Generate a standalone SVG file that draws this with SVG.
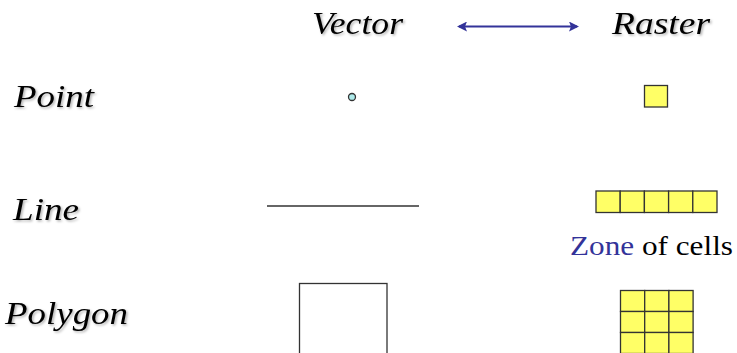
<svg xmlns="http://www.w3.org/2000/svg" width="737" height="353" viewBox="0 0 737 353">
<defs>
<style>
.lbl{font-family:'Liberation Serif','Times New Roman',serif;font-style:italic;font-size:31px;fill:#000;filter:url(#sh)}
.cell{fill:#ffff66;stroke:#333;stroke-width:1.3}
.zone{font-family:'Liberation Serif','Times New Roman',serif;font-size:27px;fill:#000}
</style>
<filter id="sh" x="-10%" y="-20%" width="130%" height="150%">
<feDropShadow dx="1.5" dy="1.5" stdDeviation="1" flood-color="#000" flood-opacity="0.3"/>
</filter>
<marker id="ah" viewBox="0 0 10 10" refX="8" refY="5" markerWidth="6" markerHeight="5" orient="auto-start-reverse">
<path d="M0,0 L10,5 L0,10 L2,5 z" fill="#333399"/>
</marker>
</defs>
<rect width="737" height="353" fill="#fff"/>
<g id="header-vector"><text class="lbl" x="312" y="34" textLength="91" lengthAdjust="spacingAndGlyphs">Vector</text></g>
<g id="header-raster"><text class="lbl" x="612" y="34" textLength="98" lengthAdjust="spacingAndGlyphs">Raster</text></g>
<g id="label-point"><text class="lbl" x="14" y="107" textLength="80" lengthAdjust="spacingAndGlyphs">Point</text></g>
<g id="label-line"><text class="lbl" x="13" y="220" textLength="66" lengthAdjust="spacingAndGlyphs">Line</text></g>
<g id="label-polygon"><text class="lbl" x="5" y="324" textLength="123" lengthAdjust="spacingAndGlyphs">Polygon</text></g>
<g id="vector-point"><circle cx="352" cy="97" r="3.5" fill="#aeeaea" stroke="#333" stroke-width="1.3"/></g>
<g id="raster-point"><rect class="cell" x="644.5" y="85.5" width="23" height="21.5"/></g>
<g id="vector-line"><line x1="267" y1="206" x2="419" y2="206" stroke="#333" stroke-width="1.3"/></g>
<g id="raster-line">
<rect class="cell" x="596" y="191" width="24.2" height="21.5"/>
<rect class="cell" x="620.2" y="191" width="24.2" height="21.5"/>
<rect class="cell" x="644.4" y="191" width="24.2" height="21.5"/>
<rect class="cell" x="668.6" y="191" width="24.2" height="21.5"/>
<rect class="cell" x="692.8" y="191" width="24.2" height="21.5"/>
</g>
<g id="zone-label"><text class="zone" x="570" y="255" textLength="163" lengthAdjust="spacingAndGlyphs"><tspan fill="#333399">Zone</tspan> of cells</text></g>
<g id="vector-polygon"><rect x="299.5" y="283.5" width="87.5" height="80" fill="none" stroke="#333" stroke-width="1.3"/></g>
<g id="raster-polygon">
<rect class="cell" x="620.5" y="290.5" width="24.2" height="21"/>
<rect class="cell" x="644.7" y="290.5" width="24.2" height="21"/>
<rect class="cell" x="668.9" y="290.5" width="24.2" height="21"/>
<rect class="cell" x="620.5" y="311.5" width="24.2" height="21"/>
<rect class="cell" x="644.7" y="311.5" width="24.2" height="21"/>
<rect class="cell" x="668.9" y="311.5" width="24.2" height="21"/>
<rect class="cell" x="620.5" y="332.5" width="24.2" height="21"/>
<rect class="cell" x="644.7" y="332.5" width="24.2" height="21"/>
<rect class="cell" x="668.9" y="332.5" width="24.2" height="21"/>
</g>
<g id="connectors">
<line x1="459" y1="26.5" x2="577" y2="26.5" stroke="#333399" stroke-width="2" marker-start="url(#ah)" marker-end="url(#ah)"/>
</g>
</svg>
